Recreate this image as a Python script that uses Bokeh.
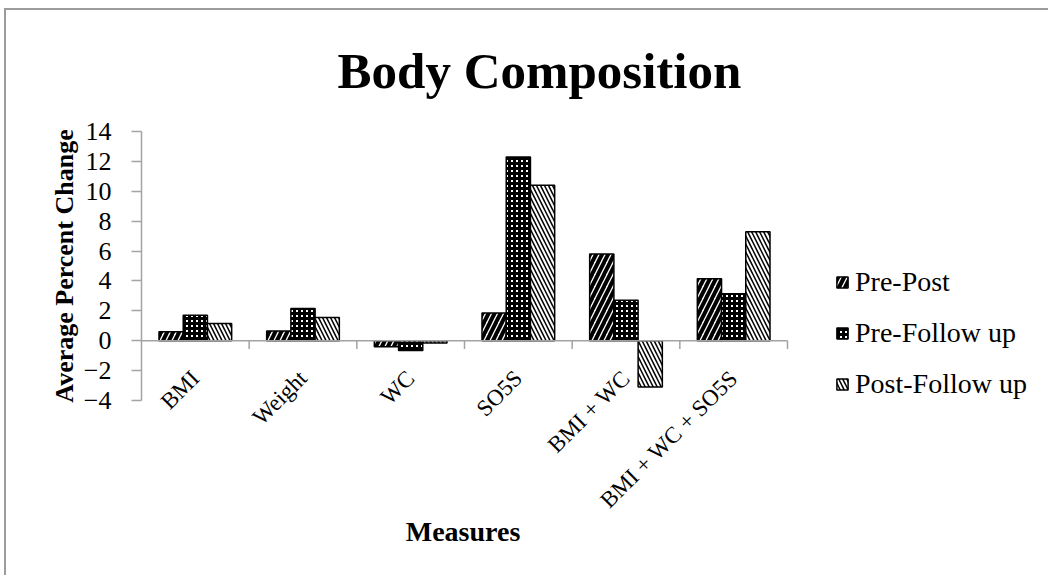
import math
from bokeh.plotting import figure
from bokeh.models import (Range1d, Legend, LegendItem, Title,
                          FixedTicker, ColumnDataSource)
from bokeh.embed import file_html
from bokeh.resources import INLINE

# ---- data ----
categories = ["BMI", "Weight", "WC", "SO5S", "BMI + WC", "BMI + WC + SO5S"]
series_names = ["Pre-Post", "Pre-Follow up", "Post-Follow up"]
pre_post = [0.6, 0.65, -0.4, 1.85, 5.8, 4.15]
pre_follow = [1.7, 2.15, -0.65, 12.3, 2.7, 3.15]
post_follow = [1.15, 1.55, -0.15, 10.4, -3.1, 7.3]
y_ticks = [-4, -2, 0, 2, 4, 6, 8, 10, 12, 14]

SERIF = "Liberation Serif"
AXIS_GREY = "#a3a3a3"

n = len(categories)
centers = [i + 0.5 for i in range(n)]        # category slot centres
bounds = [i + 1.0 for i in range(n)]          # right edge of each slot
bw = 0.225                                    # bar width (slot units)

src = ColumnDataSource(dict(
    cat=categories, c=centers, b=bounds,
    x1=[c - bw for c in centers], x2=centers, x3=[c + bw for c in centers],
    pre_post=pre_post, pre_follow=pre_follow, post_follow=post_follow))

PLOT_W = 646        # pixel width of the category area
FRAME_W = 909       # frame reaches the right edge (legend lives there)
p = figure(x_range=Range1d(0, n * FRAME_W / PLOT_W),
           y_range=(y_ticks[0], y_ticks[-1]),
           width=1044, height=567, output_backend="svg", toolbar_location=None,
           min_border_left=135, min_border_right=0,
           min_border_top=121, min_border_bottom=177)
p.margin = (8, 0, 0, 4)
p.styles = {"border-top": "2px solid #9c9c9c", "border-left": "2px solid #9c9c9c"}
p.outline_line_color = None
p.xgrid.visible = False
p.ygrid.visible = False
p.background_fill_color = "white"
p.border_fill_color = "white"

# title
p.title = Title(text="Body Composition", align="left", offset=196,
                vertical_align="top",
                text_font=SERIF, text_font_size="51px", text_font_style="bold",
                text_color="black", standoff=62)

common = dict(source=src, width=bw, line_color="black", line_width=1.5,
              fill_color="white", hatch_color="black")
r1 = p.vbar(x="x1", top="pre_post",
            hatch_pattern="/", hatch_weight=4, hatch_scale=12, **common)
r2 = p.vbar(x="x2", top="pre_follow",
            hatch_pattern="+", hatch_weight=3, hatch_scale=5, **common)
r3 = p.vbar(x="x3", top="post_follow",
            hatch_pattern="\\", hatch_weight=1.5, hatch_scale=8, **common)

# horizontal axis line at zero with category-boundary ticks
p.segment(x0=0, y0=0, x1=n, y1=0, line_color=AXIS_GREY, line_width=1.5)
p.segment(x0="b", y0=0, x1="b", y1=-0.55,
          source=src, line_color=AXIS_GREY, line_width=1.5)

# y axis
ya = p.yaxis[0]
ya.ticker = FixedTicker(ticks=y_ticks)
ya.axis_line_color = AXIS_GREY
ya.axis_line_width = 1.5
ya.major_tick_line_color = AXIS_GREY
ya.major_tick_line_width = 1.5
ya.major_tick_in = 0
ya.major_tick_out = 10
ya.minor_tick_line_color = None
ya.major_label_text_font = SERIF
ya.major_label_text_font_size = "26px"
ya.major_label_text_color = "black"
ya.major_label_standoff = 20
ya.axis_label = "Average Percent Change"
ya.axis_label_text_font = SERIF
ya.axis_label_text_font_size = "26px"
ya.axis_label_text_font_style = "bold"
ya.axis_label_text_color = "black"
ya.axis_label_standoff = 2

# x axis (category labels only, at the bottom)
xa = p.xaxis[0]
xa.bounds = (0, n)
xa.ticker = FixedTicker(ticks=centers)
xa.major_label_overrides = {c: lab for c, lab in zip(centers, categories)}
xa.axis_line_color = None
xa.major_tick_line_color = None
xa.minor_tick_line_color = None
xa.major_label_orientation = math.pi / 4
xa.major_label_text_font = SERIF
xa.major_label_text_font_size = "23px"
xa.major_label_text_color = "black"
xa.major_label_standoff = -32
# trailing no-break spaces keep the label centred under the category area
# (the frame also spans the legend column)
xa.axis_label = "Measures" + "\u00a0" * 38
xa.axis_label_text_font = SERIF
xa.axis_label_text_font_size = "28px"
xa.axis_label_text_font_style = "bold"
xa.axis_label_text_color = "black"
xa.axis_label_standoff = -9

legend = Legend(items=[LegendItem(label=series_names[0], renderers=[r1]),
                       LegendItem(label=series_names[1], renderers=[r2]),
                       LegendItem(label=series_names[2], renderers=[r3])],
                location=(694, 0), orientation="vertical",
                border_line_color=None, background_fill_alpha=0,
                label_text_font=SERIF, label_text_font_size="28px",
                label_text_color="black", glyph_width=14, glyph_height=14,
                label_standoff=6, spacing=19, padding=0, margin=0)
p.add_layout(legend)

open("out.html", "w").write(file_html(p, INLINE))
